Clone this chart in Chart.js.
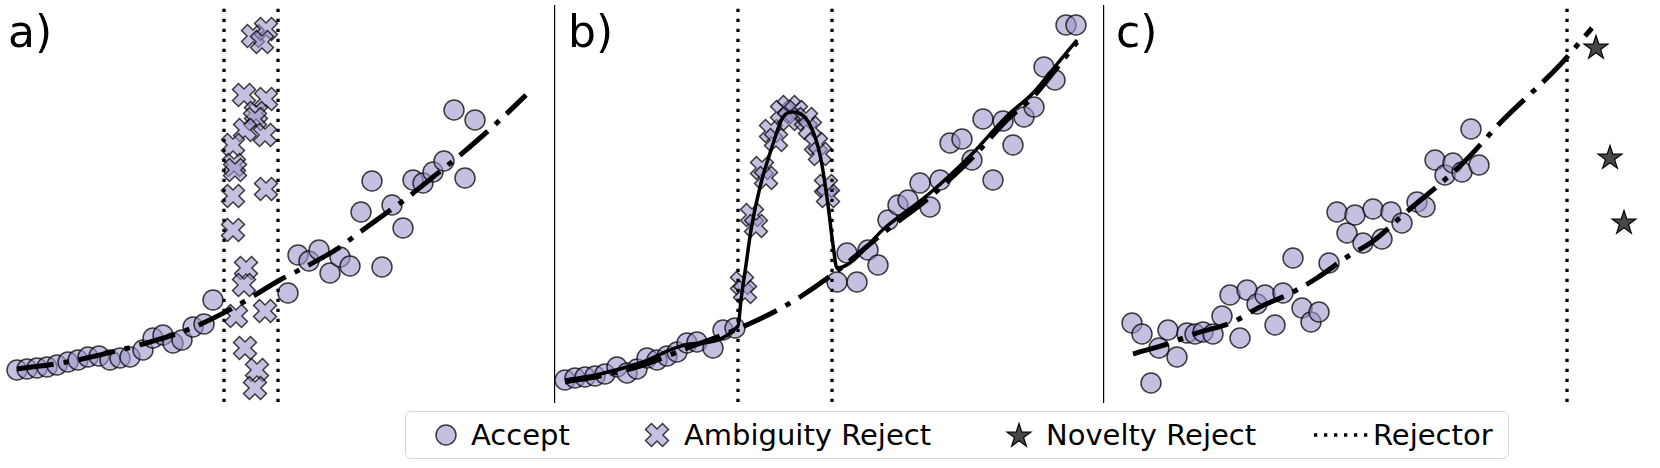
<!DOCTYPE html>
<html>
<head>
<meta charset="utf-8">
<script src="https://cdn.jsdelivr.net/npm/chart.js@4.4.0/dist/chart.umd.min.js"></script>
<style>
  body { margin: 0; background: #fff; width: 1660px; height: 468px; overflow: hidden; position: relative; font-family: 'DejaVu Sans', sans-serif; }
  canvas.panel { position: absolute; left: 0; top: 0; }
  .tag { position: absolute; top: 10px; font-size: 44px; line-height: 44px; color: #000; }
  #legend { position: absolute; left: 405px; top: 411px; width: 1102px; height: 46px; border: 1px solid #d6d6d6; border-radius: 6px; background: #fff; }
  .litem { position: absolute; font-size: 29px; line-height: 29px; color: #000; white-space: nowrap; }
  .lmark { position: absolute; }
</style>
</head>
<body>
<canvas id="panelA" class="panel" width="1660" height="468"></canvas>
<canvas id="panelB" class="panel" width="1660" height="468"></canvas>
<canvas id="panelC" class="panel" width="1660" height="468"></canvas>
<div id="tags"></div>
<div id="legend"></div>
<script>
// ---- data (x, y in arbitrary units) ----
const PANEL_LABELS = ['a)', 'b)', 'c)'];
const LEGEND_LABELS = ['Accept', 'Ambiguity Reject', 'Novelty Reject', 'Rejector'];

const aAccept = [
  [1.7, 3.2], [2.7, 3.3], [3.7, 3.4], [4.7, 3.5], [5.7, 3.7], [6.8, 4.0], [7.8, 4.2], [8.8, 4.5],
  [9.9, 4.6], [11.0, 4.2], [12.0, 4.4], [13.0, 4.5], [14.3, 5.2], [15.3, 6.4], [16.3, 6.7], [17.3, 5.9],
  [18.2, 6.2], [19.3, 7.5], [20.4, 7.8], [21.3, 10.2],
  [28.8, 10.9], [29.8, 14.7], [30.9, 14.1], [31.9, 15.2], [33.0, 12.9], [34.0, 14.5], [35.0, 13.6],
  [38.2, 13.5], [36.1, 19.0], [37.2, 22.1], [39.2, 19.7], [40.3, 17.4], [41.3, 22.2], [42.3, 21.9],
  [43.3, 23.0], [44.4, 24.1], [46.5, 22.4], [45.4, 29.2], [47.5, 28.2]
];
const aAmbiguity = [
  [25.3, 36.6], [26.6, 37.3], [26.2, 36.0], [24.4, 30.7], [26.6, 30.3], [25.6, 28.9], [25.5, 28.3],
  [24.5, 27.2], [26.5, 26.7], [23.3, 25.7], [23.4, 23.7], [23.5, 23.2], [23.3, 20.6], [26.6, 21.3],
  [23.3, 17.2], [24.6, 13.4], [24.4, 11.7], [23.6, 8.6], [26.5, 9.1], [24.5, 5.4], [25.7, 3.2], [25.5, 1.4]
];
const aCurve = [
  [1.7, 3.3], [6.7, 4.0], [14.3, 5.8], [18.7, 7.2], [23.3, 9.4], [28.0, 12.2], [30.5, 13.5], [33.7, 15.3],
  [36.0, 17.0], [38.5, 18.8], [40.7, 20.4], [43.3, 22.5], [45.3, 24.1], [48.0, 26.4], [50.0, 28.2], [52.6, 30.7]
];
const aRejector = [22.4, 27.8];

const bAccept = [
  [1.0, 2.2], [2.0, 2.4], [3.0, 2.5], [4.0, 2.6], [5.0, 2.8], [6.2, 3.5], [7.2, 2.9], [8.2, 3.3],
  [9.2, 4.4], [10.2, 4.2], [11.2, 4.6], [12.2, 5.0], [13.2, 5.9], [14.2, 6.0], [15.8, 5.4], [16.8, 7.2],
  [18.0, 7.4],
  [28.2, 12.0], [30.2, 12.0], [29.2, 14.9], [31.3, 15.2], [32.3, 13.7], [33.3, 18.2], [34.3, 19.7],
  [35.3, 20.2], [36.5, 21.9], [37.5, 19.5], [38.5, 22.2], [39.5, 25.9], [40.7, 26.3], [41.7, 24.2],
  [42.8, 28.3], [43.8, 22.2], [44.8, 28.1], [45.8, 25.7], [46.9, 28.5], [47.9, 29.5], [48.9, 33.5],
  [50.0, 32.2], [51.1, 37.7], [52.1, 37.7]
];
const bAmbiguity = [
  [18.7, 11.9], [19.0, 11.0], [19.7, 18.7], [20.1, 17.6], [20.7, 23.4], [21.1, 22.4], [21.6, 27.1],
  [22.1, 26.2], [22.7, 29.0], [23.4, 29.5], [24.1, 29.0], [23.4, 28.3], [25.1, 28.3], [25.5, 27.4],
  [26.1, 25.8], [26.5, 24.8], [27.1, 21.6], [27.3, 20.6]
];
const bCurve = [
  [1.0, 2.0], [4.5, 2.6], [8.5, 3.6], [13.5, 5.5], [18.0, 7.2], [21.5, 8.8], [24.5, 10.5], [28.2, 13.1],
  [33.2, 17.2], [37.5, 20.5], [41.8, 24.5], [45.2, 28.2], [47.8, 30.5], [49.8, 32.9], [52.2, 36.0]
];
const bModel = [
  [1.0, 2.2], [4.5, 2.8], [8.5, 3.9], [13.5, 5.8], [18.3, 7.6], [18.6, 10.2], [19.1, 13.7], [19.6, 17.2],
  [20.5, 21.5], [21.7, 25.5], [22.8, 28.5], [23.8, 29.0], [25.2, 28.2], [26.2, 25.9], [26.7, 23.7],
  [27.3, 19.7], [27.8, 15.7], [28.2, 13.4], [33.2, 17.6], [37.5, 20.9], [41.8, 24.9], [45.2, 28.6],
  [47.8, 30.9], [49.8, 33.3], [52.2, 36.2]
];
const bRejector = [18.3, 27.7];

const cAccept = [
  [2.8, 7.9], [3.8, 6.8], [5.5, 5.4], [6.4, 7.2], [7.3, 4.5], [4.7, 1.9], [8.3, 6.9], [9.1, 6.8],
  [9.9, 7.0], [10.9, 6.8], [11.8, 8.6], [12.6, 10.7], [13.6, 6.4], [14.3, 11.2], [15.3, 9.8], [16.1, 10.7],
  [17.1, 7.7], [17.9, 10.9], [18.9, 14.4], [19.8, 9.4], [20.7, 8.0], [21.5, 9.0], [22.5, 13.9], [23.3, 19.0],
  [24.3, 16.9], [25.1, 18.7], [25.9, 15.9], [26.9, 19.3], [27.8, 16.3], [28.7, 19.0], [29.8, 17.9],
  [31.3, 20.0], [32.1, 19.5], [33.1, 24.2], [34.1, 22.7], [34.9, 23.9], [35.8, 23.0], [37.5, 23.7], [36.7, 27.3]
];
const cNovelty = [[49.2, 35.5], [50.6, 24.5], [52.0, 18.0]];
const cCurve = [
  [2.9, 4.8], [6.6, 5.9], [9.3, 6.9], [12.9, 8.0], [15.4, 9.4], [18.9, 11.0], [21.3, 12.4], [24.6, 14.7],
  [26.8, 16.0], [29.9, 18.7], [35.9, 23.9], [39.9, 28.2], [45.3, 33.4], [48.8, 37.4]
];
const cRejector = [46.3];

const Y_MAX = 39.6;

// ---- styling ----
const FILL = 'rgba(157,152,203,0.6)';
const EDGE = 'rgba(0,0,0,0.75)';
const STAR_FILL = '#474747';
const CURVE_DASH = [37, 10, 5.5, 10];
const DOT_DASH = [3.3, 6.7];

// panel boxes on the page (pixels)
const PANELS = [
  { id: 'panelA', left: 0, right: 555, spine: false, tagX: 8 },
  { id: 'panelB', left: 555, right: 1104, spine: true, tagX: 568 },
  { id: 'panelC', left: 1104, right: 1660, spine: true, tagX: 1116 }
];
const TOP = 6, BOTTOM = 402, W = 1660, H = 468;

function toXY(pairs) {
  return pairs.map(p => ({ x: p[0], y: p[1] }));
}

function crossMarker() {
  const c = document.createElement('canvas');
  c.width = c.height = 30;
  const ctx = c.getContext('2d');
  const a = 12, w = 4.2;
  ctx.translate(15, 15);
  ctx.rotate(Math.PI / 4);
  const pts = [[-w, -a], [w, -a], [w, -w], [a, -w], [a, w], [w, w], [w, a], [-w, a], [-w, w], [-a, w], [-a, -w], [-w, -w]];
  ctx.beginPath();
  pts.forEach((p, i) => i ? ctx.lineTo(p[0], p[1]) : ctx.moveTo(p[0], p[1]));
  ctx.closePath();
  ctx.fillStyle = FILL;
  ctx.fill();
  ctx.lineWidth = 1.5;
  ctx.strokeStyle = EDGE;
  ctx.stroke();
  return c;
}

function starMarker() {
  const c = document.createElement('canvas');
  c.width = c.height = 30;
  const ctx = c.getContext('2d');
  const R = 12.5, r = R * 0.382;
  ctx.translate(15, 16);
  ctx.beginPath();
  for (let i = 0; i < 10; i++) {
    const ang = -Math.PI / 2 + i * Math.PI / 5;
    const rad = i % 2 ? r : R;
    const px = rad * Math.cos(ang), py = rad * Math.sin(ang);
    i ? ctx.lineTo(px, py) : ctx.moveTo(px, py);
  }
  ctx.closePath();
  ctx.fillStyle = STAR_FILL;
  ctx.fill();
  ctx.lineWidth = 1.2;
  ctx.strokeStyle = '#000';
  ctx.stroke();
  return c;
}

const CROSS = crossMarker();
const STAR = starMarker();

function acceptSet(data) {
  return {
    data: toXY(data), pointStyle: 'circle', pointRadius: 10, backgroundColor: FILL,
    borderColor: EDGE, borderWidth: 1.5, order: 4, clip: false
  };
}
function imageSet(data, img) {
  return { data: toXY(data), pointStyle: img, pointRadius: 12, order: 3, clip: false };
}
function curveSet(data) {
  return {
    data: toXY(data), showLine: true, pointRadius: 0, borderColor: '#000', borderWidth: 5,
    borderDash: CURVE_DASH, cubicInterpolationMode: 'monotone', order: 2, clip: false
  };
}
function modelSet(data) {
  return {
    data: toXY(data), showLine: true, pointRadius: 0, borderColor: '#000', borderWidth: 3.5,
    cubicInterpolationMode: 'monotone', order: 1, clip: false
  };
}
function rejectorSets(xs) {
  return xs.map(x => ({
    data: [{ x, y: 0 }, { x, y: Y_MAX }], showLine: true, pointRadius: 0, borderColor: '#000',
    borderWidth: 3.3, borderDash: DOT_DASH, tension: 0, order: 0, clip: false
  }));
}

function makePanel(panel, datasets) {
  return new Chart(document.getElementById(panel.id), {
    type: 'scatter',
    data: { datasets },
    options: {
      responsive: false,
      animation: false,
      devicePixelRatio: 1,
      events: [],
      layout: {
        autoPadding: false,
        padding: { left: panel.left, right: W - panel.right, top: TOP, bottom: H - BOTTOM }
      },
      plugins: { legend: { display: false }, tooltip: { enabled: false } },
      scales: {
        x: { type: 'linear', min: 0, max: (panel.right - panel.left) / 10, display: false },
        y: {
          type: 'linear', min: 0, max: Y_MAX, display: panel.spine,
          ticks: { display: false },
          grid: { display: false, drawTicks: false },
          border: { display: true, color: '#000', width: 1.2 },
          afterFit: s => { s.width = 0; }
        }
      }
    }
  });
}

makePanel(PANELS[0], [
  acceptSet(aAccept), imageSet(aAmbiguity, CROSS), curveSet(aCurve), ...rejectorSets(aRejector)
]);
makePanel(PANELS[1], [
  acceptSet(bAccept), imageSet(bAmbiguity, CROSS), curveSet(bCurve), modelSet(bModel), ...rejectorSets(bRejector)
]);
makePanel(PANELS[2], [
  acceptSet(cAccept), imageSet(cNovelty, STAR), curveSet(cCurve), ...rejectorSets(cRejector)
]);

// panel tags
const tags = document.getElementById('tags');
PANELS.forEach((p, i) => {
  const d = document.createElement('div');
  d.className = 'tag';
  d.style.left = p.tagX + 'px';
  d.textContent = PANEL_LABELS[i];
  tags.appendChild(d);
});

// legend (page coordinates converted to box coordinates)
const legend = document.getElementById('legend');
const LEG_LEFT = 406, LEG_TOP = 412, LEG_CY = 435;
const legendItems = [
  { kind: 'circle', cx: 446, tx: 471 },
  { kind: 'cross', cx: 657, tx: 684 },
  { kind: 'star', cx: 1019, tx: 1046 },
  { kind: 'line', x0: 1314, x1: 1371, tx: 1373 }
];

function legendMark(kind, len) {
  const c = document.createElement('canvas');
  const ctx = c.getContext('2d');
  if (kind === 'line') {
    c.width = len; c.height = 10;
    ctx.setLineDash(DOT_DASH);
    ctx.lineWidth = 3.3;
    ctx.strokeStyle = '#000';
    ctx.beginPath(); ctx.moveTo(0, 5); ctx.lineTo(len, 5); ctx.stroke();
    return c;
  }
  c.width = c.height = 30;
  if (kind === 'circle') {
    ctx.beginPath(); ctx.arc(15, 15, 10, 0, Math.PI * 2);
    ctx.fillStyle = FILL; ctx.fill();
    ctx.lineWidth = 1.5; ctx.strokeStyle = EDGE; ctx.stroke();
  } else {
    ctx.drawImage(kind === 'cross' ? CROSS : STAR, 0, 0);
  }
  return c;
}

legendItems.forEach((it, i) => {
  const m = legendMark(it.kind, it.x1 - it.x0);
  m.className = 'lmark';
  if (it.kind === 'line') {
    m.style.left = (it.x0 - LEG_LEFT) + 'px';
    m.style.top = (LEG_CY - 5 - LEG_TOP) + 'px';
  } else {
    m.style.left = (it.cx - 15 - LEG_LEFT) + 'px';
    m.style.top = (LEG_CY - 15 - LEG_TOP) + 'px';
  }
  legend.appendChild(m);
  const t = document.createElement('div');
  t.className = 'litem';
  t.style.left = (it.tx - LEG_LEFT) + 'px';
  t.style.top = (420.5 - LEG_TOP) + 'px';
  t.textContent = LEGEND_LABELS[i];
  legend.appendChild(t);
});
</script>
</body>
</html>
